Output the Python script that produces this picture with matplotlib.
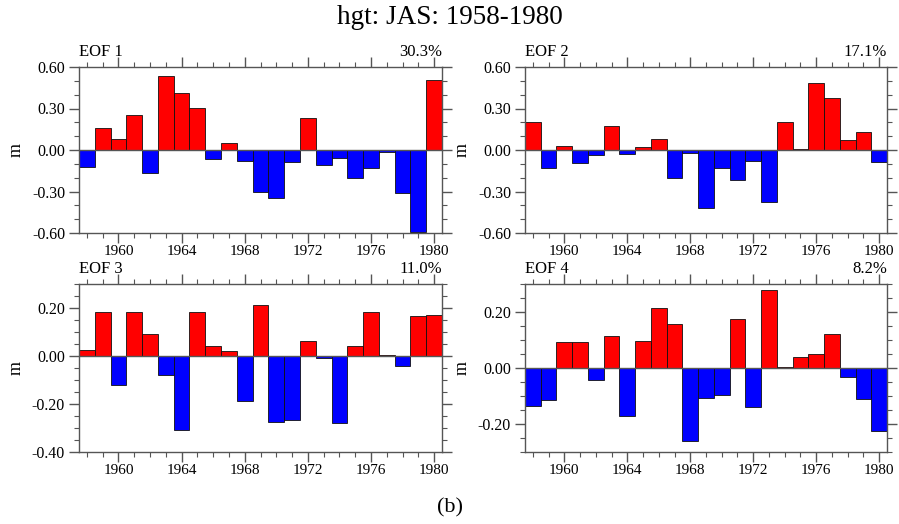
import matplotlib
matplotlib.use("Agg")
import matplotlib.pyplot as plt
from matplotlib.ticker import MultipleLocator, FormatStrFormatter
import numpy as np

plt.rcParams['font.family'] = ['Liberation Serif', 'DejaVu Serif']

years = list(range(1958, 1981))

eof1 = [-0.12, 0.156, 0.079, 0.25, -0.163, 0.533, 0.413, 0.305, -0.065, 0.053,
        -0.079, -0.305, -0.348, -0.089, 0.233, -0.106, -0.058, -0.199, -0.127,
        -0.017, -0.314, -0.593, 0.509]
eof2 = [0.206, -0.132, 0.029, -0.096, -0.034, 0.175, -0.029, 0.022, 0.079, -0.206,
        -0.019, -0.418, -0.13, -0.214, -0.079, -0.377, 0.199, 0.007, 0.485,
        0.379, 0.07, 0.132, -0.089]
eof3 = [0.024, 0.182, -0.122, 0.183, 0.09, -0.081, -0.31, 0.185, 0.043, 0.021,
        -0.186, 0.213, -0.273, -0.266, 0.062, -0.008, -0.281, 0.042, 0.183,
        0.006, -0.042, 0.168, 0.171]
eof4 = [-0.134, -0.116, 0.093, 0.093, -0.043, 0.113, -0.17, 0.096, 0.213, 0.156,
        -0.26, -0.107, -0.095, 0.175, -0.138, 0.279, 0.005, 0.041, 0.051,
        0.12, -0.032, -0.109, -0.226]

labels = ["EOF 1", "EOF 2", "EOF 3", "EOF 4"]
pcts = ["30.3%", "17.1%", "11.0%", "8.2%"]
ylims = [(-0.6, 0.6), (-0.6, 0.6), (-0.4, 0.3), (-0.3, 0.3)]
ymajor = [0.3, 0.3, 0.2, 0.2]
yminor = [0.1, 0.1, 0.05, 0.05]
series = [eof1, eof2, eof3, eof4]

W, H = 899, 524
fig = plt.figure(figsize=(W / 100, H / 100), dpi=100)

boxes = [(79, 442, 67, 233), (525, 887, 67, 233),
         (79, 442, 284, 452), (525, 887, 284, 452)]

spine_col = '#555555'
for i, (l, r, t, b) in enumerate(boxes):
    ax = fig.add_axes([l / W, (H - b) / H, (r - l) / W, (b - t) / H])
    vals = np.array(series[i])
    cols = ['#ff0000' if v >= 0 else '#0000ff' for v in vals]
    ax.bar(years, vals, width=1.0, color=cols, edgecolor='#111111', linewidth=0.6, zorder=2)
    ax.axhline(0, color='#555555', linewidth=1.0, zorder=3)
    ax.set_xlim(1957.5, 1980.5)
    ax.set_ylim(*ylims[i])
    ax.set_xticks(list(range(1960, 1981, 4)))
    ax.xaxis.set_minor_locator(MultipleLocator(1))
    ax.yaxis.set_major_locator(MultipleLocator(ymajor[i]))
    ax.yaxis.set_minor_locator(MultipleLocator(yminor[i]))
    ax.yaxis.set_major_formatter(FormatStrFormatter('%.2f'))
    ax.tick_params(which='both', direction='out', top=True, right=True,
                   color=spine_col, labelsize=11.5)
    ax.tick_params(which='major', length=7, width=1.0, pad=3)
    ax.tick_params(axis='x', which='major', pad=1.5, labelsize=11)
    ax.tick_params(which='minor', length=3.5, width=0.8)
    for s in ax.spines.values():
        s.set_color(spine_col)
        s.set_linewidth(1.0)
    ax.set_ylabel('m', fontsize=13, labelpad=5)
    ax.text(0.0, 1.04, labels[i], transform=ax.transAxes, ha='left', va='bottom', fontsize=12)
    ax.text(1.0, 1.04, pcts[i], transform=ax.transAxes, ha='right', va='bottom', fontsize=12)

fig.text(0.5, 1 - 18 / H, 'hgt: JAS: 1958-1980', ha='center', va='center', fontsize=19.5)
fig.text(0.5, 1 - 508 / H, '(b)', ha='center', va='center', fontsize=16)

fig.savefig('out.png', dpi=100)
